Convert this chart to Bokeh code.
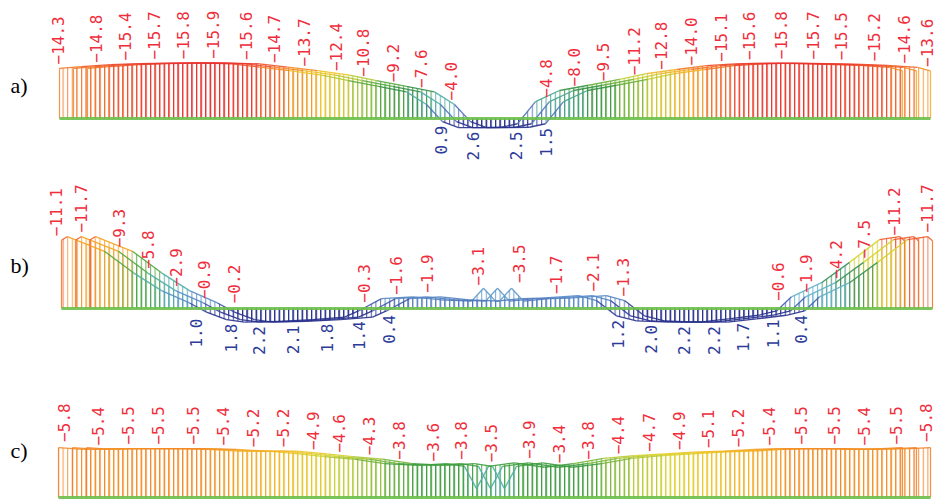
import numpy as np
from bokeh.plotting import figure
from bokeh.models import ColumnDataSource, Range1d, Label, LinearColorMapper
from bokeh.layouts import column
from bokeh.core.properties import value
from bokeh.embed import file_html
from bokeh.resources import INLINE

# ---------------- data (station positions along the beam, values) ----------------
# panel a) middle beam curve
A_X = [73, 95, 124, 153, 182, 212, 245, 273, 303, 335, 362, 392, 420, 440, 456, 472, 494,
       515, 531, 549, 573, 602, 633, 660, 690, 720, 748, 780, 812, 840, 873, 903, 916]
A_V = [-14.3, -14.8, -15.4, -15.7, -15.8, -15.9, -15.6, -14.7, -13.7, -12.4, -10.8, -9.2,
       -7.6, -4.0, 0.9, 2.6, 2.6, 2.5, 1.5, -4.8, -8.0, -9.5, -11.2, -12.8, -14.0, -15.1,
       -15.6, -15.8, -15.7, -15.5, -15.2, -14.6, -13.6]
A_NEG_X = [57, 95, 124, 153, 182, 212, 245, 273, 303, 335, 362, 392, 420, 450, 545, 573,
           602, 633, 660, 690, 720, 748, 780, 812, 840, 873, 903, 926]
A_NEG_V = [-14.3, -14.8, -15.4, -15.7, -15.8, -15.9, -15.6, -14.7, -13.7, -12.4, -10.8,
           -9.2, -7.6, -4.0, -4.8, -8.0, -9.5, -11.2, -12.8, -14.0, -15.1, -15.6, -15.8,
           -15.7, -15.5, -15.2, -14.6, -13.6]
A_POS_X = [440, 472, 515, 545]
A_POS_V = [0.9, 2.6, 2.5, 1.5]

# panel b)
B_X = [75, 81, 118, 147, 175, 203, 220, 240, 258, 292, 326, 358, 372, 395, 426, 455, 485,
       497, 509, 535, 555, 592, 610, 630, 650, 683, 713, 742, 772, 790, 805, 835, 863, 893,
       913, 918]
B_V = [-11.1, -11.7, -9.3, -5.8, -2.9, -0.9, 0.6, 1.8, 2.2, 2.1, 1.8, 1.4, 0.4, -1.6,
       -1.9, -1.4, -1.2, -3.3, -1.2, -1.6, -1.7, -2.1, -1.3, 1.2, 2.0, 2.2, 2.2, 1.7, 1.1,
       0.4, -1.9, -4.2, -7.5, -11.2, -11.7, -11.0]
B_NEG_X = [55, 80, 118, 147, 175, 203, 233, 363, 395, 426, 477, 518, 555, 592, 622, 777,
           805, 835, 863, 893, 926]
B_NEG_V = [-11.1, -11.7, -9.3, -5.8, -2.9, -0.9, -0.2, -0.3, -1.6, -1.9, -3.1, -3.5, -1.7,
           -2.1, -1.3, -0.6, -1.9, -4.2, -7.5, -11.2, -11.7]
B_POS_X = [195, 230, 258, 292, 326, 358, 388, 617, 650, 683, 713, 742, 772, 800]
B_POS_V = [1.0, 1.8, 2.2, 2.1, 1.8, 1.4, 0.4, 1.2, 2.0, 2.2, 2.2, 1.7, 1.1, 0.4]

# panel c)
C_X = [72, 97, 127, 157, 192, 222, 252, 282, 312, 338, 368, 398, 432, 460, 478, 490, 502,
       528, 558, 587, 617, 648, 678, 707, 737, 768, 800, 833, 863, 895, 916]
C_V = [-5.6, -5.4, -5.5, -5.5, -5.5, -5.4, -5.2, -5.2, -4.9, -4.6, -4.3, -3.8, -3.6, -3.8,
       -3.5, -1.0, -3.5, -3.9, -3.4, -3.8, -4.4, -4.7, -4.9, -5.1, -5.2, -5.4, -5.5, -5.5,
       -5.4, -5.5, -5.6]
C_NEG_X = [63, 97, 127, 157, 192, 222, 252, 282, 312, 338, 368, 398, 432, 460, 490, 528,
           558, 587, 617, 648, 678, 707, 737, 768, 800, 833, 863, 895, 925]
C_NEG_V = [-5.8, -5.4, -5.5, -5.5, -5.5, -5.4, -5.2, -5.2, -4.9, -4.6, -4.3, -3.8, -3.6,
           -3.8, -3.5, -3.9, -3.4, -3.8, -4.4, -4.7, -4.9, -5.1, -5.2, -5.4, -5.5, -5.5,
           -5.4, -5.5, -5.8]
C_POS_X = []
C_POS_V = []

TAGS = ["a)", "b)", "c)"]

# ---------------- style ----------------
BEAM_SHIFTS = [-14, 0, 14]          # three parallel beams drawn side by side
ANCHORS = [  # colour ramp from most negative (red) to zero (blue)
    (0.00, "#e8262b"), (0.07, "#f0642a"), (0.14, "#f5a623"), (0.21, "#e6d52a"),
    (0.30, "#9cc43c"), (0.40, "#3e9e3c"), (0.50, "#2f8a4a"), (0.62, "#49a89a"),
    (0.72, "#62bccc"), (0.84, "#5a8fc8"), (1.00, "#34449e")]
NAVY = "#27308c"
RED_TXT = "#ef2d3b"
BLUE_TXT = "#2c3b98"
GREEN = "#6cbf4a"
W = 939


def hex2rgb(h):
    return tuple(int(h[i:i + 2], 16) for i in (1, 3, 5))


def make_palette(n=256):
    pos = [a[0] for a in ANCHORS]
    cols = np.array([hex2rgb(a[1]) for a in ANCHORS], float)
    out = []
    for t in np.linspace(0, 1, n):
        rgb = [np.interp(t, pos, cols[:, k]) for k in range(3)]
        out.append("#%02x%02x%02x" % tuple(int(round(c)) for c in rgb))
    return out


PALETTE = make_palette()


def fmt(v):
    return ("%.1f" % v).replace("-", "\u2212")


def panel(xs, vs, nx, nv, px_, pv, vmax, height, base_from_top, ppu, tag, tag_from_bottom):
    top = -base_from_top / ppu
    bottom = (height - base_from_top) / ppu
    p = figure(width=W, height=height, x_range=Range1d(0, W),
               y_range=Range1d(bottom, top), output_backend="svg",
               toolbar_location=None, x_axis_location=None, y_axis_location=None,
               min_border=0, min_border_left=0, min_border_right=0,
               min_border_top=0, min_border_bottom=0)
    p.outline_line_color = None
    p.grid.visible = False
    p.background_fill_color = "white"
    mapper = LinearColorMapper(palette=PALETTE, low=-vmax, high=0,
                               low_color=PALETTE[0], high_color=NAVY)

    pxs, pys, pc = [], [], []
    sx0, sy0, sx1, sy1, sc = [], [], [], [], []
    ex, ev = [], []
    for d in BEAM_SHIFTS:
        for i in range(len(xs) - 1):
            a, b = xs[i] + d, xs[i + 1] + d
            pxs.append([a, a, b, b])
            pys.append([0, vs[i], vs[i + 1], 0])
            c = 0.5 * (vs[i] + vs[i + 1])
            pc.append(c)
            sx0.append(a); sy0.append(vs[i]); sx1.append(b); sy1.append(vs[i + 1]); sc.append(c)
        ex += [xs[0] + d, xs[-1] + d]
        ev += [vs[0], vs[-1]]

    src = ColumnDataSource(dict(xs=pxs, ys=pys, c=pc))
    p.patches("xs", "ys", source=src, fill_alpha=0, line_alpha=0,
              hatch_pattern="vertical_line", hatch_scale=4.6, hatch_weight=1.1,
              hatch_color={"field": "c", "transform": mapper}, hatch_alpha=0.8)
    ssrc = ColumnDataSource(dict(x0=sx0, y0=sy0, x1=sx1, y1=sy1, c=sc))
    p.segment("x0", "y0", "x1", "y1", source=ssrc, line_width=1.3, line_alpha=0.9,
              line_color={"field": "c", "transform": mapper})
    esrc = ColumnDataSource(dict(x=ex, y0=[0] * len(ex), y1=ev, c=ev))
    p.segment("x", "y0", "x", "y1", source=esrc, line_width=1.2, line_alpha=0.85,
              line_color={"field": "c", "transform": mapper})

    # beam axis
    bx = [xs[0] + BEAM_SHIFTS[0], xs[-1] + BEAM_SHIFTS[-1]]
    p.line(bx, [0, 0], line_color=GREEN, line_width=3, line_alpha=0.9)

    nsrc = ColumnDataSource(dict(x=nx, y=nv, t=[fmt(v) for v in nv]))
    p.text("x", "y", text="t", source=nsrc, angle=np.pi / 2, text_align="left",
           text_baseline="middle", y_offset=-4, text_color=RED_TXT,
           text_font=value("DejaVu Sans Mono"), text_font_size="16px")
    if len(px_):
        psrc = ColumnDataSource(dict(x=px_, y=pv, t=[fmt(v) for v in pv]))
        p.text("x", "y", text="t", source=psrc, angle=np.pi / 2, text_align="right",
               text_baseline="middle", y_offset=4, text_color=BLUE_TXT,
               text_font=value("DejaVu Sans Mono"), text_font_size="16px")

    p.add_layout(Label(x=10, y=tag_from_bottom, x_units="data", y_units="screen",
                       text=tag, text_font="Liberation Serif", text_font_size="22px",
                       text_color="black", text_baseline="middle"))
    return p


pa = panel(A_X, A_V, A_NEG_X, A_NEG_V, A_POS_X, A_POS_V, 16.0, 165, 118, 3.5, TAGS[0], 80)
pb = panel(B_X, B_V, B_NEG_X, B_NEG_V, B_POS_X, B_POS_V, 12.2, 210, 143, 6.15, TAGS[1], 110)
pc = panel(C_X, C_V, C_NEG_X, C_NEG_V, C_POS_X, C_POS_V, 6.2, 124, 122, 8.9, TAGS[2], 49)

layout = column(pa, pb, pc, spacing=0)
open("out.html", "w").write(file_html(layout, INLINE))
